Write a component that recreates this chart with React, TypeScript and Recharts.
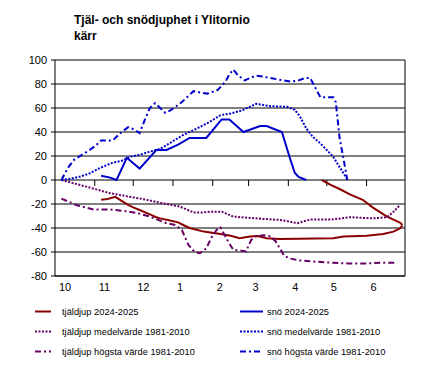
import React from 'react';
import { LineChart, Line, XAxis, YAxis, CartesianGrid, ReferenceLine, Legend } from 'recharts';

// x = days since 1 October, y = cm (snow above 0, frost below)
const monthLabels = ['10', '11', '12', '1', '2', '3', '4', '5', '6'];
const monthStartDays = [0, 31, 61, 92, 123, 151, 182, 212, 243];
const yTicks = [-80, -60, -40, -20, 0, 20, 40, 60, 80, 100];

const tjalDjup2425: [number, number][] = [
  [36, -16.5], [41, -15.8], [47, -14], [57, -20.8], [61, -22.8], [66, -25], [74, -28.6],
  [79, -31], [82, -32], [88, -33.3], [96, -35.3], [100, -37.5], [105, -40], [116, -43],
  [129, -45], [137, -46.4], [144, -48.6], [152, -47], [158, -46.7], [165, -48.6], [175, -49.2],
  [190, -49], [217, -48.6], [225, -47], [243, -46.4], [256, -45], [264, -43], [269, -40.3], [271, -38],
];
const tjalOvre2425: [number, number][] = [
  [208, 0], [215, -4], [222, -7.5], [230, -12], [240, -16.5], [248, -23], [259, -30.5],
  [269, -35.5], [271, -37.5],
];
const tjalMedel: [number, number][] = [
  [5, 0], [19, -4], [31, -7.5], [43, -11], [53, -13], [69, -16], [84, -19.4], [97, -22],
  [108, -27], [116, -27], [121, -26.4], [130, -26.4], [139, -30.5], [150, -31.4], [163, -32.5],
  [176, -33.3], [183, -34.7], [189, -36], [199, -33], [217, -32.8], [230, -31], [248, -32],
  [259, -31], [264, -26.4], [269, -21],
];
const tjalHogsta: [number, number][] = [
  [5, -15.5], [17, -21], [30, -24.5], [43, -24.5], [55, -26], [64, -27.5], [74, -30.5],
  [87, -36], [94, -37.5], [99, -41.7], [104, -54], [109, -60], [113, -61], [118, -57],
  [122, -48], [126, -41.7], [129, -39.5], [131, -43.5], [136, -53], [139, -58], [149, -59.5],
  [153, -50], [156, -47], [163, -46], [168, -47], [172, -51], [176, -58], [179, -63.5],
  [184, -65.5], [190, -67], [202, -68], [217, -69], [228, -69.5], [243, -69.5], [254, -69], [267, -69],
];
const sno2425: [number, number][] = [
  [36, 3.5], [43, 2], [48, 0], [56, 18.5], [66, 9.5], [79, 25], [87, 25], [96, 29.5],
  [105, 35], [118, 35], [130, 50.5], [136, 50.5], [147, 40], [160, 45], [165, 45], [177, 40],
  [183, 19], [187, 6], [190, 2.5], [196, 0],
];
const snoMedel: [number, number][] = [
  [5, 0], [12, 1], [20, 3], [27, 5.5], [35, 10], [44, 14], [52, 16], [59, 19.5], [66, 21],
  [74, 23.6], [82, 26], [90, 31], [96, 35], [100, 37.5], [110, 42.5], [121, 48.6], [129, 54],
  [137, 55.5], [146, 58], [152, 61], [157, 63.5], [168, 61.5], [181, 61], [187, 58.5],
  [191, 53], [196, 43], [201, 36], [207, 30.5], [212, 25], [217, 19.4], [221, 12.5], [225, 5.6], [228, 0.5],
];
const snoHogsta: [number, number][] = [
  [5, 0], [10, 10], [15, 17], [21, 21], [27, 25], [32, 29], [36, 33], [45, 33], [51, 39],
  [57, 44], [62, 42], [66, 39], [70, 50], [74, 60], [78, 64], [82, 60], [86, 56], [90, 58],
  [94, 61], [99, 65], [104, 70], [108, 74], [113, 73], [119, 72], [127, 75], [133, 82],
  [136, 88], [139, 92], [143, 87], [148, 83], [152, 85], [157, 87], [163, 86], [168, 85],
  [173, 84], [178, 83], [184, 82], [190, 83], [195, 85], [199, 85], [201, 81], [204, 75],
  [207, 69], [212, 69], [217, 69], [219, 65], [220, 55], [222, 35], [225, 18], [228, 0],
];

const RED = '#8B0000';
const PURPLE = '#660066';
const BLUE = '#0000CC';
const DOTS = '2 1.5';
const DASHDOT = '6 3 2 3';
const FONT = '"Liberation Sans", Arial, sans-serif';

const toRows = (pts: [number, number][]) => pts.map(([d, v]) => ({ d, v }));

const legendItems = [
  { name: 'tjäldjup 2024-2025', color: RED, dash: undefined, col: 0, row: 0 },
  { name: 'tjäldjup medelvärde 1981-2010', color: PURPLE, dash: DOTS, col: 0, row: 1 },
  { name: 'tjäldjup högsta värde 1981-2010', color: PURPLE, dash: DASHDOT, col: 0, row: 2 },
  { name: 'snö 2024-2025', color: BLUE, dash: undefined, col: 1, row: 0 },
  { name: 'snö medelvärde 1981-2010', color: BLUE, dash: DOTS, col: 1, row: 1 },
  { name: 'snö högsta värde 1981-2010', color: BLUE, dash: DASHDOT, col: 1, row: 2 },
];

function LegendBox() {
  return (
    <svg width={430} height={70}>
      {legendItems.map((it) => {
        const y = 11.5 + it.row * 20;
        const x1 = it.col === 0 ? 35 : 240;
        const x2 = it.col === 0 ? 51 : 263;
        const tx = it.col === 0 ? 62 : 267;
        return (
          <g key={it.name}>
            <line x1={x1} x2={x2} y1={y} y2={y} stroke={it.color} strokeWidth={2} strokeDasharray={it.dash} />
            <text x={tx} y={y} dy="0.35em" fontSize={9.3} fontFamily={FONT} fill="#000">{it.name}</text>
          </g>
        );
      })}
    </svg>
  );
}

function MonthTick(props: any) {
  const { x, y, payload } = props;
  const label = monthLabels[monthStartDays.indexOf(payload.value)];
  return (
    <text x={x + 4} y={y} dy="0.71em" textAnchor="start" fontSize={11} fontFamily={FONT} fill="#000">
      {label}
    </text>
  );
}

export default function App() {
  return (
    <div style={{ position: 'absolute', left: 0, top: 0, width: 430, height: 376, background: '#fff', fontFamily: FONT }}>
      <div style={{ position: 'absolute', left: 74, top: 12, fontSize: 12, fontWeight: 'bold', lineHeight: '16px', color: '#000' }}>
        Tjäl- och snödjuphet i Ylitornio<br />kärr
      </div>
      <LineChart width={430} height={376} margin={{ top: 60, right: 25, bottom: 80, left: 0 }}>
        <CartesianGrid horizontal vertical={false} stroke="#000" />
        <XAxis
          dataKey="d"
          type="number"
          domain={[0, 273]}
          ticks={monthStartDays}
          interval={0}
          height={20}
          tickLine={false}
          tickSize={0}
          tickMargin={7}
          axisLine={{ stroke: '#000' }}
          tick={<MonthTick />}
        />
        <YAxis
          type="number"
          domain={[-80, 100]}
          ticks={yTicks}
          interval={0}
          width={55}
          tickSize={4}
          tickMargin={4}
          axisLine={{ stroke: '#000' }}
          tickLine={{ stroke: '#000' }}
          tick={{ fill: '#000', fontSize: 11, fontFamily: FONT }}
        />
        <ReferenceLine x={273} stroke="#000" />
        {monthStartDays.slice(1).map((d) => (
          <ReferenceLine key={d} segment={[{ x: d, y: 0 }, { x: d, y: -5 }]} stroke="#000" />
        ))}
        <Line data={toRows(tjalDjup2425)} dataKey="v" name="tjäldjup 2024-2025" stroke={RED} strokeWidth={2} dot={false} isAnimationActive={false} />
        <Line data={toRows(tjalOvre2425)} dataKey="v" name="tjäldjup övre" stroke={RED} strokeWidth={2} dot={false} legendType="none" isAnimationActive={false} />
        <Line data={toRows(tjalMedel)} dataKey="v" name="tjäldjup medelvärde 1981-2010" stroke={PURPLE} strokeWidth={2} strokeDasharray={DOTS} dot={false} isAnimationActive={false} />
        <Line data={toRows(tjalHogsta)} dataKey="v" name="tjäldjup högsta värde 1981-2010" stroke={PURPLE} strokeWidth={2} strokeDasharray={DASHDOT} dot={false} isAnimationActive={false} />
        <Line data={toRows(sno2425)} dataKey="v" name="snö 2024-2025" stroke={BLUE} strokeWidth={2} dot={false} isAnimationActive={false} />
        <Line data={toRows(snoMedel)} dataKey="v" name="snö medelvärde 1981-2010" stroke={BLUE} strokeWidth={2} strokeDasharray={DOTS} dot={false} isAnimationActive={false} />
        <Line data={toRows(snoHogsta)} dataKey="v" name="snö högsta värde 1981-2010" stroke={BLUE} strokeWidth={2} strokeDasharray={DASHDOT} dot={false} isAnimationActive={false} />
        <Legend
          layout="horizontal"
          verticalAlign="middle"
          content={() => <LegendBox />}
          wrapperStyle={{ position: 'absolute', left: 0, top: 300, width: 430, height: 70 }}
        />
      </LineChart>
    </div>
  );
}
